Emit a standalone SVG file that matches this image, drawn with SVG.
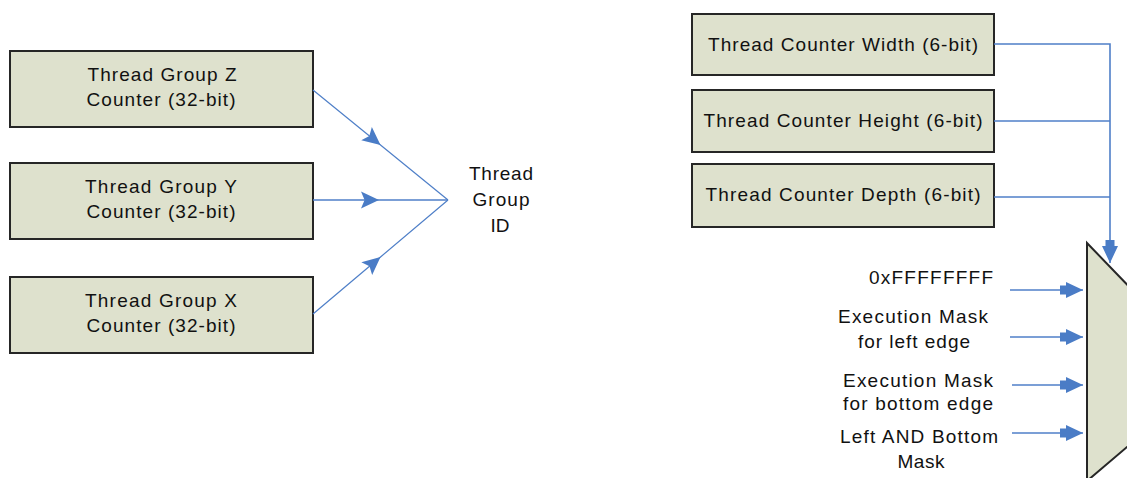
<svg xmlns="http://www.w3.org/2000/svg" width="1127" height="478" viewBox="0 0 1127 478">
<style>
.box{fill:#dee1cd;stroke:#262626;stroke-width:2}
.t{font-family:"Liberation Sans",Arial,sans-serif;font-size:19px;fill:#111;text-anchor:middle}
.c{fill:none;stroke:#4f7fc8;stroke-width:1.6}
.thin{stroke-width:1.2}
</style>
<defs>
<marker id="ah" markerUnits="userSpaceOnUse" markerWidth="30" markerHeight="30" viewBox="-25 -10 30 20" refX="0" refY="0" orient="auto">
<path d="M-23,-4.5 L-17,-4.5 L-17,-8 L0,0 L-17,8 L-17,4.5 L-23,4.5 z" fill="#4a7cc6"/>
</marker>
<marker id="am" markerUnits="userSpaceOnUse" markerWidth="30" markerHeight="30" viewBox="-20 -10 25 20" refX="0" refY="0" orient="auto">
<path d="M-15,-7 L0,0 L-15,7 L-12,0 z" fill="#4a7cc6"/>
</marker>
</defs>
<rect width="1127" height="478" fill="#ffffff"/>

<g id="tgz">
<rect class="box" x="10" y="51" width="303" height="76"/>
<text class="t" x="162" y="81" textLength="149" lengthAdjust="spacing">Thread Group Z</text>
<text class="t" x="161" y="106" textLength="149" lengthAdjust="spacing">Counter (32-bit)</text>
</g>
<g id="tgy">
<rect class="box" x="10" y="163" width="303" height="76"/>
<text class="t" x="161" y="193" textLength="152" lengthAdjust="spacing">Thread Group Y</text>
<text class="t" x="161" y="218" textLength="149" lengthAdjust="spacing">Counter (32-bit)</text>
</g>
<g id="tgx">
<rect class="box" x="10" y="277" width="303" height="76"/>
<text class="t" x="161" y="307" textLength="152" lengthAdjust="spacing">Thread Group X</text>
<text class="t" x="161" y="332" textLength="149" lengthAdjust="spacing">Counter (32-bit)</text>
</g>
<g id="tgid">
<text class="t" x="501" y="180" textLength="64" lengthAdjust="spacing">Thread</text>
<text class="t" x="501" y="206" textLength="57" lengthAdjust="spacing">Group</text>
<text class="t" x="500" y="232">ID</text>
</g>

<g id="tcw">
<rect class="box" x="692" y="14" width="302" height="61"/>
<text class="t" x="843" y="51" textLength="270" lengthAdjust="spacing">Thread Counter Width (6-bit)</text>
</g>
<g id="tch">
<rect class="box" x="692" y="90" width="302" height="62"/>
<text class="t" x="843" y="127" textLength="279" lengthAdjust="spacing">Thread Counter Height (6-bit)</text>
</g>
<g id="tcd">
<rect class="box" x="692" y="164" width="302" height="63"/>
<text class="t" x="843" y="201" textLength="275" lengthAdjust="spacing">Thread Counter Depth (6-bit)</text>
</g>

<g id="mux">
<polygon class="box" points="1087,243 1140,298 1140,436 1087,481"/>
</g>

<g id="labels">
<text class="t" x="931" y="284" textLength="124" lengthAdjust="spacing">0xFFFFFFFF</text>
<text class="t" x="913" y="323" textLength="150" lengthAdjust="spacing">Execution Mask</text>
<text class="t" x="914" y="348" textLength="112" lengthAdjust="spacing">for left edge</text>
<text class="t" x="918" y="387" textLength="150" lengthAdjust="spacing">Execution Mask</text>
<text class="t" x="918" y="410" textLength="150" lengthAdjust="spacing">for bottom edge</text>
<text class="t" x="919" y="443" textLength="158" lengthAdjust="spacing">Left AND Bottom</text>
<text class="t" x="921" y="468" textLength="47" lengthAdjust="spacing">Mask</text>
</g>

<g id="connectors">
<polyline class="c thin" points="313,90 380.5,145 448,200" marker-mid="url(#am)"/>
<polyline class="c" points="313,200 379,200 448,200" marker-mid="url(#am)"/>
<polyline class="c thin" points="313,314 380.5,257 448,200" marker-mid="url(#am)"/>

<polyline class="c" points="994,44 1110,44 1110,263" marker-end="url(#ah)"/>
<line class="c" x1="994" y1="121" x2="1110" y2="121"/>
<line class="c" x1="994" y1="197" x2="1110" y2="197"/>

<line class="c" x1="1010" y1="290" x2="1083" y2="290" marker-end="url(#ah)"/>
<line class="c" x1="1010" y1="337" x2="1083" y2="337" marker-end="url(#ah)"/>
<line class="c" x1="1012" y1="385" x2="1083" y2="385" marker-end="url(#ah)"/>
<line class="c" x1="1012" y1="433" x2="1083" y2="433" marker-end="url(#ah)"/>
</g>
</svg>
